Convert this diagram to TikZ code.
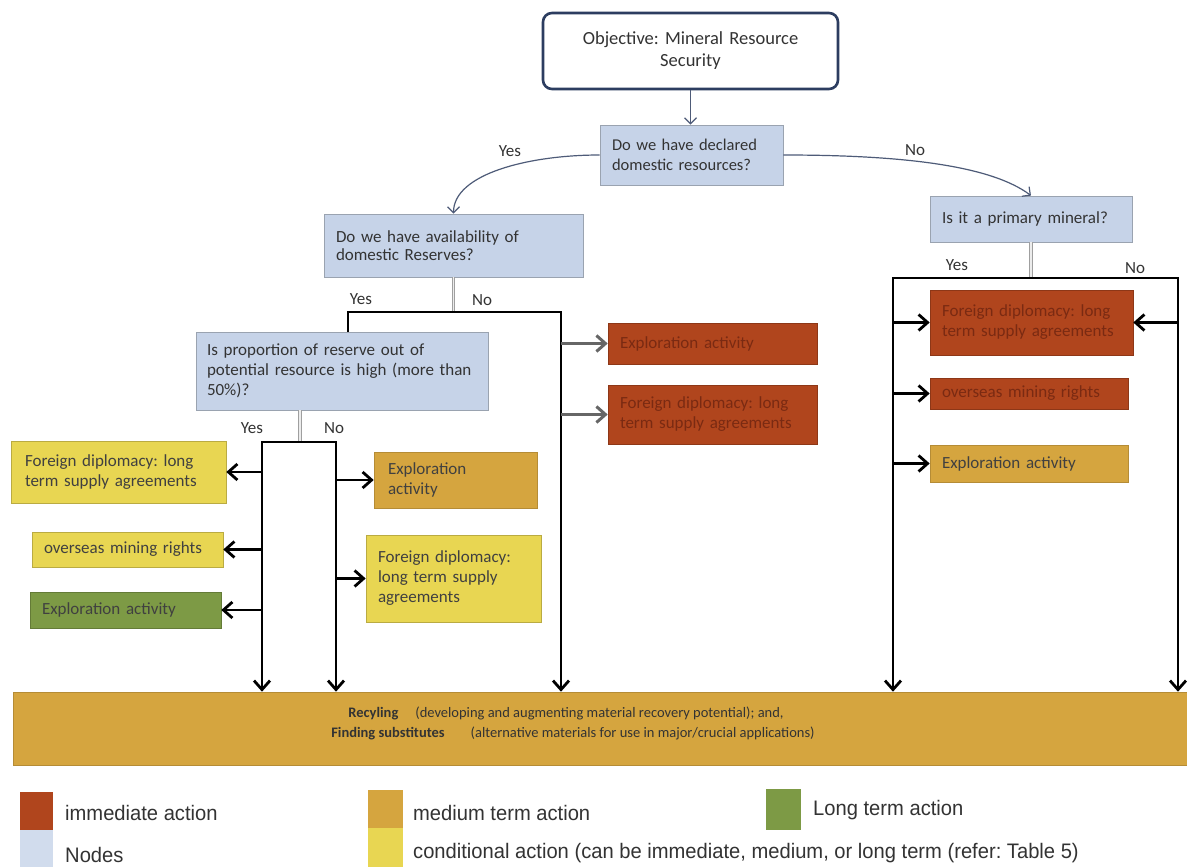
\documentclass[tikz,border=0pt]{standalone}
\usepackage{fontspec}
\setmainfont{Carlito}
\newfontfamily\legendfont[FakeStretch=0.96]{Liberation Sans}
\usetikzlibrary{arrows.meta,positioning,calc}
\frenchspacing
\definecolor{nodeblue}{HTML}{C6D3E8}
\definecolor{nodeedge}{HTML}{9AA3B0}
\definecolor{objedge}{HTML}{2C3D60}
\definecolor{immred}{HTML}{B0451D}
\definecolor{immtext}{HTML}{7A2A12}
\definecolor{medochre}{HTML}{D5A53F}
\definecolor{condyellow}{HTML}{E8D652}
\definecolor{longgreen}{HTML}{7D9A45}
\definecolor{curveblue}{HTML}{4E5B78}
\definecolor{txtgray}{HTML}{333333}

\begin{document}
\begin{tikzpicture}[x=1pt,y=-1pt,
  base/.style={rectangle,inner xsep=12pt,inner ysep=0pt,align=left,text=txtgray,
    font=\fontsize{17}{20}\selectfont},
  dim/.style 2 args={text width=#1,minimum height=#2},
  qbox/.style={base,fill=nodeblue,draw=nodeedge,line width=0.8pt},
  imm/.style={base,fill=immred,draw=immred!80!black,line width=0.6pt,text=immtext},
  med/.style={base,fill=medochre,draw=medochre!85!black,line width=0.6pt,text=black!75},
  cond/.style={base,fill=condyellow,draw=condyellow!80!black,line width=0.6pt,text=black!75},
  lng/.style={base,fill=longgreen,draw=longgreen!80!black,line width=0.6pt,text=black!75},
  lbl/.style={font=\fontsize{17}{20}\selectfont,text=txtgray,inner sep=0pt},
  curve/.style={-{Straight Barb[length=6pt,width=12pt]},line width=1.2pt,draw=curveblue},
  stem/.style={draw=gray!75,double=gray!15,double distance=1.6pt,line width=0.8pt},
  arr/.style={line width=2.8pt,black,-{Straight Barb[length=9pt,width=16pt]}},
  garr/.style={line width=3pt,draw=black!60,-{Straight Barb[length=9pt,width=16pt]}},
  key/.style={rectangle,inner sep=0pt,anchor=north west,minimum width=33pt,minimum height=38pt},
  keytxt/.style={anchor=west,inner sep=0pt,font=\legendfont\fontsize{21}{24}\selectfont,text=black!80}
]
\useasboundingbox[fill=white] (0,0) rectangle (1187,867);

\node[base,align=center,draw=objedge,line width=2.6pt,rounded corners=9pt,fill=white,
  font=\fontsize{18.5}{22}\selectfont,dim={271pt}{76pt}] (obj) at (690.5,51)
  {Objective: Mineral Resource\\Security};
\node[qbox,font=\fontsize{16.5}{20}\selectfont,dim={159pt}{60pt}] (decl) at (691.5,155)
  {Do we have declared\\domestic resources?};
\node[qbox,font=\fontsize{17}{18}\selectfont,dim={235pt}{63pt}] (avail) at (453.5,245.5)
  {Do we have availability of\\domestic Reserves?};
\node[qbox,inner xsep=11pt,dim={270pt}{78pt}] (prop) at (342,371)
  {Is proportion of reserve out of\\potential resource is high (more than\\50\%)?};
\node[qbox,dim={178pt}{46pt}] (prim) at (1031,219) {Is it a primary mineral?};

\node[imm,dim={185pt}{41pt}] (redexp) at (712.5,343.5) {Exploration activity};
\node[imm,dim={185pt}{59pt}] (redfor) at (712.5,414.5)
  {Foreign diplomacy: long\\term supply agreements};
\node[imm,dim={179pt}{65pt}] (primfor) at (1031.5,322.5)
  {Foreign diplomacy: long\\term supply agreements};
\node[imm,dim={174pt}{31pt}] (primover) at (1029,393.5) {overseas mining rights};
\node[med,dim={174pt}{37pt}] (primexp) at (1029,463.5) {Exploration activity};

\node[cond,inner xsep=14pt,dim={187pt}{62pt}] (yesfor) at (118.5,472)
  {Foreign diplomacy: long\\term supply agreements};
\node[cond,dim={167pt}{35pt}] (yesover) at (127.5,549.5) {overseas mining rights};
\node[lng,dim={167pt}{36pt}] (yesexp) at (125.5,610) {Exploration activity};
\node[med,inner xsep=14pt,dim={135pt}{56pt}] (noexp) at (455.5,480) {Exploration\\activity};
\node[cond,dim={151pt}{87pt}] (nofor) at (453.5,578.5)
  {Foreign diplomacy:\\long term supply\\agreements};

\node[rectangle,fill=medochre,draw=medochre!85!black,line width=0.6pt,
  minimum width=1174pt,minimum height=73pt] (recycle) at (600,728.5) {};
\node[align=center,inner sep=0pt,text=black!80,font=\fontsize{14.5}{20}\selectfont]
  (recycletxt) at (566,723)
  {\textbf{Recyling}\hspace{17pt}(developing and augmenting material recovery potential); and,\\
   \hspace*{14pt}\textbf{Finding substitutes}\hspace{26pt}(alternative materials for use in major/crucial applications)};

\node[lbl] (yes1) at (510,151) {Yes};
\node[lbl] (no1) at (915,150) {No};
\node[lbl] (yes2) at (361,299) {Yes};
\node[lbl] (no2) at (482,300) {No};
\node[lbl] (yes3) at (252,428) {Yes};
\node[lbl] (no3) at (334,428) {No};
\node[lbl] (yes4) at (957,265) {Yes};
\node[lbl] (no4) at (1135,268) {No};

\coordinate (aL) at (348,312);
\coordinate (aR) at (561,312);
\coordinate (pJ) at (300,442);
\coordinate (pL) at (262,442);
\coordinate (pR) at (336,442);
\coordinate (qL) at (893,278);
\coordinate (qR) at (1178,278);

\draw[curve] (obj.south) -- (obj.south |- decl.north);
\draw[curve] (decl.west) .. controls +(-70,0) and +(0,-40) .. (avail.north);
\draw[curve] (decl.east) .. controls +(120,0) and +(-40,-30) .. (prim.north);

\draw[stem] (avail.south) -- (avail.south |- aL);
\draw[arr] (aL |- prop.north) -- (aL) -- (aR) -- (aR |- recycle.north);
\draw[garr] (redexp.west -| aR) -- (redexp.west);
\draw[garr] (redfor.west -| aR) -- (redfor.west);

\draw[stem] (pJ |- prop.south) -- (pJ);
\draw[arr] (pJ) -- (pL) -- (pL |- recycle.north);
\draw[arr] (pJ) -- (pR) -- (pR |- recycle.north);
\draw[arr] (yesfor.east -| pL) -- (yesfor.east);
\draw[arr] (yesover.east -| pL) -- (yesover.east);
\draw[arr] (yesexp.east -| pL) -- (yesexp.east);
\draw[arr] (noexp.west -| pR) -- (noexp.west);
\draw[arr] (nofor.west -| pR) -- (nofor.west);

\draw[stem] (prim.south) -- (prim.south |- qL);
\draw[arr] (prim.south |- qL) -- (qL) -- (qL |- recycle.north);
\draw[arr] (prim.south |- qR) -- (qR) -- (qR |- recycle.north);
\draw[arr] (primfor.west -| qL) -- (primfor.west);
\draw[arr] (primover.west -| qL) -- (primover.west);
\draw[arr] (primexp.west -| qL) -- (primexp.west);
\draw[arr] (primfor.east -| qR) -- (primfor.east);

\node[key,fill=immred] (keyimm) at (20,792) {};
\node[key,fill=nodeblue!80!white,minimum height=37pt] (keynode) at (20,830) {};
\node[keytxt] (txtimm) at (65,813) {immediate action};
\node[keytxt] (txtnode) at (65,855) {Nodes};
\node[key,fill=medochre,minimum width=35pt] (keymed) at (368,790) {};
\node[key,fill=condyellow,minimum width=35pt,minimum height=39pt] (keycond) at (368,828) {};
\node[keytxt] (txtmed) at (413,813) {medium term action};
\node[keytxt] (txtcond) at (413,853)
  {conditional action (can be immediate, medium, or long term (refer: Table 5)};
\node[key,fill=longgreen,minimum width=35pt,minimum height=41pt] (keylong) at (766,789) {};
\node[keytxt] (txtlong) at (813,810) {Long term action};
\end{tikzpicture}
\end{document}
